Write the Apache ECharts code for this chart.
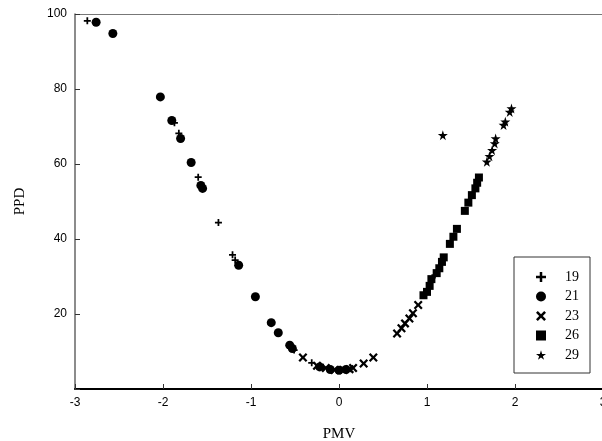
<!DOCTYPE html>
<html>
<head>
<meta charset="utf-8">
<script src="https://cdn.jsdelivr.net/npm/echarts@6/dist/echarts.min.js"></script>
<style>
  html, body { margin: 0; padding: 0; background: #fff; }
  #chart-container { width: 602px; height: 441px; }
</style>
</head>
<body>
<div id="chart-container"></div>
<script>
var xTicks = [-3, -2, -1, 0, 1, 2, 3];
var yTicks = [20, 40, 60, 80, 100];
var nameData = ["19", "21", "23", "26", "29"];

// [PMV, PPD]
var data19 = [[-2.86, 98.2], [-1.87, 71.0], [-1.82, 68.2], [-1.60, 56.5], [-1.37, 44.4],
  [-1.21, 35.8], [-1.18, 34.4], [-0.51, 10.4], [-0.31, 7.0], [-0.18, 5.8], [1.09, 30.4]];
var data21 = [[-2.76, 97.8], [-2.57, 94.8], [-2.03, 77.9], [-1.90, 71.6], [-1.80, 66.8],
  [-1.68, 60.4], [-1.57, 54.3], [-1.55, 53.5], [-1.14, 33.0], [-0.95, 24.6], [-0.77, 17.7],
  [-0.69, 15.0], [-0.56, 11.7], [-0.53, 10.8], [-0.22, 5.9], [-0.10, 5.2], [0.00, 5.0], [0.08, 5.2]];
var data23 = [[-0.41, 8.4], [-0.25, 6.2], [-0.15, 5.6], [-0.05, 5.1], [0.05, 5.1], [0.12, 5.3],
  [0.16, 5.6], [0.28, 6.8], [0.39, 8.4], [0.66, 14.8], [0.71, 16.2], [0.75, 17.5], [0.80, 18.8],
  [0.84, 20.2], [0.90, 22.4]];
var data26 = [[0.96, 25.0], [1.00, 25.9], [1.03, 27.5], [1.05, 29.3], [1.11, 30.9], [1.14, 32.2],
  [1.17, 33.9], [1.19, 35.1], [1.26, 38.7], [1.30, 40.6], [1.34, 42.7], [1.43, 47.5], [1.47, 49.7],
  [1.51, 51.7], [1.55, 53.5], [1.57, 55.0], [1.59, 56.4]];
var data29 = [[1.18, 67.7], [1.68, 60.6], [1.71, 62.1], [1.74, 63.7], [1.77, 65.5], [1.78, 66.8],
  [1.87, 70.4], [1.89, 71.3], [1.94, 73.9], [1.96, 74.8]];

var plusPath = "path://M3,0H5V3H8V5H5V8H3V5H0V3H3Z";
var crossPath = "path://M0,1.8L1.8,0L5,3.2L8.2,0L10,1.8L6.8,5L10,8.2L8.2,10L5,6.8L1.8,10L0,8.2L3.2,5Z";
var starPath = "path://M50,0L61,35L98,35L68,57L79,91L50,70L21,91L32,57L2,35L39,35Z";

var dom = document.getElementById("chart-container");
var myChart = echarts.init(dom, null, { renderer: "canvas" });

function mkSeries(name, data, symbol, size) {
  return {
    name: name,
    type: "scatter",
    data: data,
    symbol: symbol,
    symbolSize: size,
    itemStyle: { color: "#000", opacity: 1 },
    emphasis: { disabled: true }
  };
}

var option = {
  animation: false,
  grid: { left: 75, top: 14, right: -1, bottom: 52, outerBoundsMode: "none" },
  legend: {
    orient: "vertical",
    left: 514,
    top: 257,
    data: nameData,
    itemWidth: 10,
    itemHeight: 10,
    itemGap: 5.5,
    padding: [13, 11, 11, 22],
    borderColor: "#333",
    borderWidth: 1,
    itemStyle: { opacity: 1 },
    textStyle: { fontFamily: "Liberation Serif", fontSize: 14, color: "#000", padding: [0, 0, 0, 14] }
  },
  xAxis: [{
    type: "value",
    min: -3,
    max: 3,
    interval: 1,
    name: "PMV",
    nameLocation: "middle",
    nameGap: 38,
    nameTextStyle: { fontFamily: "Liberation Serif", fontSize: 15, color: "#000" },
    axisLine: { onZero: false, lineStyle: { color: "#000", width: 2 } },
    axisTick: { inside: true, length: 5, lineStyle: { color: "#333" } },
    axisLabel: { fontFamily: "Liberation Sans", fontSize: 12, color: "#000", margin: 8 },
    splitLine: { show: false }
  }, {
    type: "value",
    position: "top",
    min: -3,
    max: 3,
    axisLine: { show: true, onZero: false, lineStyle: { color: "#777", width: 1 } },
    axisTick: { show: false },
    axisLabel: { show: false },
    splitLine: { show: false }
  }],
  yAxis: {
    type: "value",
    min: 0,
    max: 100,
    interval: 20,
    name: "PPD",
    nameLocation: "middle",
    nameGap: 47,
    nameTextStyle: { fontFamily: "Liberation Serif", fontSize: 15, color: "#000" },
    axisLine: { show: true, onZero: false, lineStyle: { color: "#666", width: 1.5 } },
    axisTick: { inside: true, length: 5, lineStyle: { color: "#333" } },
    axisLabel: {
      fontFamily: "Liberation Sans", fontSize: 12, color: "#000", margin: 8,
      formatter: function (v) { return yTicks.indexOf(v) >= 0 ? String(v) : ""; }
    },
    splitLine: { show: false }
  },
  series: [
    mkSeries("19", data19, plusPath, 7),
    mkSeries("21", data21, "circle", 9),
    mkSeries("23", data23, crossPath, 9),
    mkSeries("26", data26, "rect", 8),
    mkSeries("29", data29, starPath, 10)
  ]
};

myChart.setOption(option);
</script>
</body>
</html>
